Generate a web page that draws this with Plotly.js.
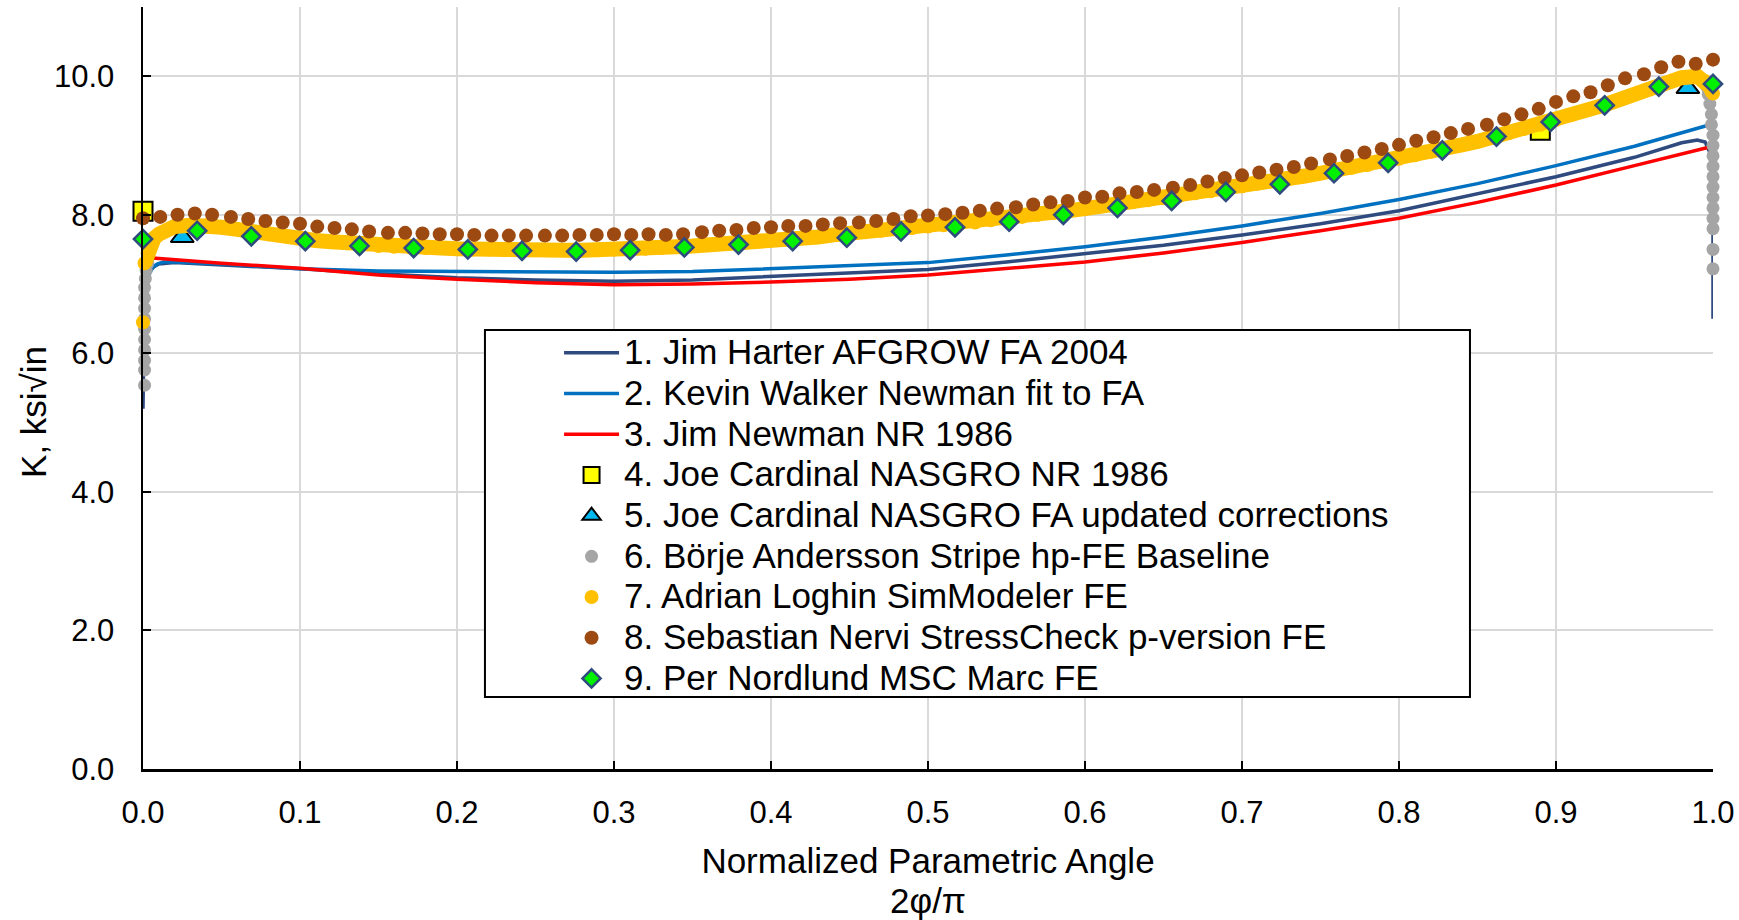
<!DOCTYPE html>
<html>
<head>
<meta charset="utf-8">
<script src="https://cdn.plot.ly/plotly-3.0.1.min.js"></script>
<style>html,body{margin:0;padding:0;background:#fff;}#chart{width:1739px;height:920px;}</style>
</head>
<body>
<div id="chart"></div>
<script>
// ---------- Data ----------
const seriesNames = [
  "1. Jim Harter AFGROW FA 2004",
  "2. Kevin Walker Newman fit to FA",
  "3. Jim Newman NR 1986",
  "4. Joe Cardinal NASGRO NR 1986",
  "5. Joe Cardinal NASGRO FA updated corrections",
  "6. Börje Andersson Stripe hp-FE Baseline",
  "7. Adrian Loghin SimModeler FE",
  "8. Sebastian Nervi StressCheck p-version FE",
  "9. Per Nordlund MSC Marc FE"
];
const xTitleLines = ["Normalized Parametric Angle", "2φ/π"];
const yTitle = "K, ksi√in";

const harterX = [0, 0.0005, 0.001, 0.002, 0.004, 0.007, 0.01, 0.02, 0.05, 0.1, 0.15, 0.2, 0.25, 0.3, 0.35, 0.4, 0.45, 0.5, 0.55, 0.6, 0.65, 0.7, 0.75, 0.8, 0.85, 0.9, 0.95, 0.97, 0.98, 0.99, 0.995, 0.998, 1.0, 1.0];
const harterY = [5.2, 6.3, 6.8, 7.05, 7.18, 7.25, 7.29, 7.31, 7.28, 7.22, 7.15, 7.09, 7.06, 7.04, 7.06, 7.11, 7.16, 7.21, 7.32, 7.44, 7.56, 7.71, 7.87, 8.06, 8.30, 8.55, 8.83, 8.97, 9.04, 9.08, 9.05, 8.90, 8.60, 6.5];

const walkerX = [0.003, 0.004, 0.006, 0.009, 0.013, 0.02, 0.05, 0.1, 0.15, 0.2, 0.25, 0.3, 0.35, 0.4, 0.45, 0.5, 0.55, 0.6, 0.65, 0.7, 0.75, 0.8, 0.85, 0.9, 0.95, 0.998];
const walkerY = [7.02, 7.14, 7.24, 7.29, 7.32, 7.32, 7.29, 7.22, 7.19, 7.18, 7.17, 7.17, 7.18, 7.22, 7.27, 7.31, 7.42, 7.54, 7.68, 7.84, 8.02, 8.22, 8.45, 8.71, 8.99, 9.30];

const newmanX = [0.004, 0.05, 0.1, 0.15, 0.2, 0.25, 0.3, 0.35, 0.4, 0.45, 0.5, 0.55, 0.6, 0.65, 0.7, 0.75, 0.8, 0.85, 0.9, 0.95, 0.998];
const newmanY = [7.38, 7.30, 7.23, 7.13, 7.07, 7.02, 6.99, 7.00, 7.03, 7.07, 7.13, 7.22, 7.32, 7.45, 7.60, 7.77, 7.95, 8.18, 8.43, 8.71, 8.98];

const cardinalNRX = [0.0, 0.89];
const cardinalNRY = [8.05, 9.22];

const cardinalFAX = [0.025, 0.984];
const cardinalFAY = [7.68, 9.83];

const anderssonX = [0.001, 0.001, 0.001, 0.001, 0.001, 0.001, 0.001, 0.001, 0.001, 0.001, 0.0015, 0.002, 0.003,
  0.1, 0.2, 0.3, 0.4, 0.5, 0.6, 0.7, 0.8, 0.9, 0.95,
  0.996, 0.997, 0.998, 0.999, 0.999, 1.0, 1.0, 1.0, 1.0, 1.0, 1.0, 1.0, 1.0, 1.0, 1.0, 1.0, 1.0];
const anderssonY = [5.54, 5.76, 5.90, 6.05, 6.20, 6.35, 6.50, 6.65, 6.80, 6.95, 7.08, 7.20, 7.30,
  7.66, 7.51, 7.50, 7.63, 7.83, 8.09, 8.41, 8.81, 9.37, 9.74,
  9.85, 9.74, 9.60, 9.45, 9.30, 9.15, 9.00, 8.85, 8.70, 8.55, 8.40, 8.25, 8.10, 7.95, 7.80, 7.50, 7.22];

const loghinX = [0, 0, 0.001, 0.003, 0.005, 0.007,
  0.01, 0.02, 0.03, 0.04, 0.05, 0.06, 0.07, 0.08, 0.09, 0.10,
  0.11, 0.12, 0.13, 0.14, 0.15, 0.16, 0.17, 0.18, 0.19, 0.20,
  0.21, 0.22, 0.23, 0.24, 0.25, 0.26, 0.27, 0.28, 0.29, 0.30,
  0.31, 0.32, 0.33, 0.34, 0.35, 0.36, 0.37, 0.38, 0.39, 0.40,
  0.41, 0.42, 0.43, 0.44, 0.45, 0.46, 0.47, 0.48, 0.49, 0.50,
  0.51, 0.52, 0.53, 0.54, 0.55, 0.56, 0.57, 0.58, 0.59, 0.60,
  0.61, 0.62, 0.63, 0.64, 0.65, 0.66, 0.67, 0.68, 0.69, 0.70,
  0.71, 0.72, 0.73, 0.74, 0.75, 0.76, 0.77, 0.78, 0.79, 0.80,
  0.81, 0.82, 0.83, 0.84, 0.85, 0.86, 0.87, 0.88, 0.89, 0.90,
  0.91, 0.92, 0.93, 0.94, 0.95, 0.96, 0.97, 0.98, 0.99, 0.995, 0.998, 1.0];
const loghinY = [6.45, null, 7.30, 7.45, 7.58, 7.66,
  7.72, 7.83, 7.85, 7.85, 7.82, 7.79, 7.75, 7.72, 7.69, 7.66,
  7.63, 7.61, 7.59, 7.57, 7.55, 7.54, 7.53, 7.52, 7.52, 7.51,
  7.50, 7.50, 7.49, 7.49, 7.49, 7.49, 7.49, 7.49, 7.49, 7.50,
  7.50, 7.51, 7.52, 7.54, 7.55, 7.56, 7.58, 7.60, 7.61, 7.63,
  7.65, 7.66, 7.68, 7.71, 7.73, 7.75, 7.77, 7.79, 7.81, 7.83,
  7.85, 7.87, 7.89, 7.92, 7.94, 7.97, 8.00, 8.03, 8.06, 8.09,
  8.12, 8.15, 8.18, 8.21, 8.24, 8.27, 8.31, 8.34, 8.38, 8.41,
  8.45, 8.49, 8.52, 8.56, 8.60, 8.64, 8.68, 8.72, 8.77, 8.81,
  8.86, 8.91, 8.96, 9.01, 9.06, 9.12, 9.18, 9.24, 9.30, 9.37,
  9.44, 9.51, 9.58, 9.66, 9.74, 9.82, 9.90, 9.98, 10.00, 9.93, 9.85, 9.75];

const nerviX = [0, 0.011, 0.022, 0.033, 0.044, 0.056, 0.067, 0.078, 0.089,
  0.1, 0.111, 0.122, 0.133, 0.144, 0.156, 0.167, 0.178, 0.189,
  0.2, 0.211, 0.222, 0.233, 0.244, 0.256, 0.267, 0.278, 0.289,
  0.3, 0.311, 0.322, 0.333, 0.344, 0.356, 0.367, 0.378, 0.389,
  0.4, 0.411, 0.422, 0.433, 0.444, 0.456, 0.467, 0.478, 0.489,
  0.5, 0.511, 0.522, 0.533, 0.544, 0.556, 0.567, 0.578, 0.589,
  0.6, 0.611, 0.622, 0.633, 0.644, 0.656, 0.667, 0.678, 0.689,
  0.7, 0.711, 0.722, 0.733, 0.744, 0.756, 0.767, 0.778, 0.789,
  0.8, 0.811, 0.822, 0.833, 0.844, 0.856, 0.867, 0.878, 0.889,
  0.9, 0.911, 0.922, 0.933, 0.944, 0.956, 0.967, 0.978, 0.989, 1.0];
const nerviY = [7.95, 7.97, 8.00, 8.02, 8.00, 7.97, 7.94, 7.91, 7.89,
  7.87, 7.83, 7.81, 7.79, 7.76, 7.74, 7.74, 7.73, 7.72,
  7.72, 7.71, 7.70, 7.70, 7.70, 7.70, 7.70, 7.71, 7.71,
  7.72, 7.71, 7.72, 7.71, 7.72, 7.75, 7.77, 7.78, 7.81,
  7.82, 7.84, 7.84, 7.86, 7.88, 7.89, 7.91, 7.94, 7.98,
  7.99, 8.01, 8.03, 8.06, 8.09, 8.11, 8.15, 8.18, 8.20,
  8.25, 8.26, 8.31, 8.33, 8.36, 8.39, 8.43, 8.48, 8.53,
  8.57, 8.61, 8.65, 8.69, 8.74, 8.80, 8.85, 8.90, 8.95,
  9.01, 9.07, 9.12, 9.18, 9.24, 9.30, 9.38, 9.45, 9.53,
  9.63, 9.71, 9.77, 9.87, 9.97, 10.03, 10.13, 10.21, 10.18, 10.24];

const nordlundX = [0, 0.0345, 0.069, 0.1034, 0.1379, 0.1724, 0.2069, 0.2414, 0.2759, 0.3103,
  0.3448, 0.3793, 0.4138, 0.4483, 0.4828, 0.5172, 0.5517, 0.5862, 0.6207, 0.6552,
  0.6897, 0.7241, 0.7586, 0.7931, 0.8276, 0.8621, 0.8966, 0.931, 0.9655, 1.0];
const nordlundY = [7.65, 7.77, 7.69, 7.62, 7.55, 7.52, 7.50, 7.48, 7.47, 7.49,
  7.53, 7.57, 7.62, 7.67, 7.76, 7.82, 7.90, 8.00, 8.10, 8.20,
  8.33, 8.44, 8.60, 8.75, 8.93, 9.13, 9.34, 9.58, 9.85, 9.89];

const xTickVals = [0, 0.1, 0.2, 0.3, 0.4, 0.5, 0.6, 0.7, 0.8, 0.9, 1.0];
const yTickVals = [0, 2, 4, 6, 8, 10];

// ---------- Chart ----------
const FONT = "Liberation Sans, Arial, sans-serif";
const big = s => '<span style="font-size:35px">' + s + '</span>';

const traces = [
  {x: harterX, y: harterY, name: big(seriesNames[0]), mode: "lines", line: {color: "#2E4A7E", width: 3.5}},
  {x: walkerX, y: walkerY, name: big(seriesNames[1]), mode: "lines", line: {color: "#0070C0", width: 3.5}},
  {x: newmanX, y: newmanY, name: big(seriesNames[2]), mode: "lines", line: {color: "#FF0000", width: 3.5}},
  {x: cardinalNRX, y: cardinalNRY, name: big(seriesNames[3]), mode: "markers", cliponaxis: false,
   marker: {symbol: "square", size: 19, color: "#FFFF00", line: {color: "#000000", width: 2}}},
  {x: cardinalFAX, y: cardinalFAY, name: big(seriesNames[4]), mode: "markers", cliponaxis: false,
   marker: {symbol: "triangle-up", size: 20, color: "#00B8F0", line: {color: "#000000", width: 2}}},
  {x: anderssonX, y: anderssonY, name: big(seriesNames[5]), mode: "markers", cliponaxis: false,
   marker: {symbol: "circle", size: 13, color: "#A5A5A5"}},
  {x: loghinX, y: loghinY, name: big(seriesNames[6]), mode: "lines", legendgroup: "g7", showlegend: false,
   connectgaps: false, cliponaxis: false, line: {color: "#FFC000", width: 15}, hoverinfo: "skip"},
  {x: loghinX, y: loghinY, name: big(seriesNames[6]), mode: "markers", legendgroup: "g7", cliponaxis: false,
   marker: {symbol: "circle", size: 14, color: "#FFC000"}},
  {x: nerviX, y: nerviY, name: big(seriesNames[7]), mode: "markers", cliponaxis: false,
   marker: {symbol: "circle", size: 14, color: "#9C4A12"}},
  {x: nordlundX, y: nordlundY, name: big(seriesNames[8]), mode: "markers", cliponaxis: false,
   marker: {symbol: "diamond", size: 14, color: "#00F000", line: {color: "#2E4A7E", width: 2.5}}}
];

const axisCommon = {
  showgrid: true, gridcolor: "#D9D9D9", gridwidth: 2,
  showline: true, linecolor: "#000000", linewidth: 2.5,
  ticks: "inside", ticklen: 8, tickwidth: 2, tickcolor: "#000000",
  zeroline: false, tickformat: ".1f",
  tickfont: {family: FONT, size: 31, color: "#000000"}
};

const layout = {
  width: 1739, height: 920,
  margin: {l: 143, r: 26, t: 7, b: 151},
  paper_bgcolor: "#FFFFFF", plot_bgcolor: "#FFFFFF",
  font: {family: FONT, color: "#000000"},
  showlegend: true,
  xaxis: Object.assign({}, axisCommon, {
    range: [0, 1], tickmode: "array", tickvals: xTickVals,
    ticklabelstandoff: 14,
    title: {text: xTitleLines.map(big).join("<br>"),
            font: {family: FONT, size: 31, color: "#000000"}, standoff: 23}
  }),
  yaxis: Object.assign({}, axisCommon, {
    range: [0, 11], tickmode: "array", tickvals: yTickVals,
    ticklabelstandoff: 20
  }),
  annotations: [{
    text: yTitle, xref: "paper", yref: "paper", x: -0.0701, y: 0.4685,
    xanchor: "center", yanchor: "middle", textangle: -90, showarrow: false,
    font: {family: FONT, size: 35, color: "#000000"}
  }],
  legend: {
    x: 0.265, y: 0.5794, xanchor: "left", yanchor: "top",
    bgcolor: "rgba(0,0,0,0)", borderwidth: 0,
    itemwidth: 55, tracegroupgap: 0,
    font: {family: FONT, size: 29, color: "#000000"}
  },
  shapes: [{
    type: "rect", xref: "paper", yref: "paper", layer: "above",
    x0: 0.2178, x1: 0.8452, y0: 0.0945, y1: 0.5761,
    line: {color: "#000000", width: 2}, fillcolor: "#FFFFFF"
  }]
};

Plotly.newPlot("chart", traces, layout, {displayModeBar: false, staticPlot: true});
</script>
</body>
</html>
